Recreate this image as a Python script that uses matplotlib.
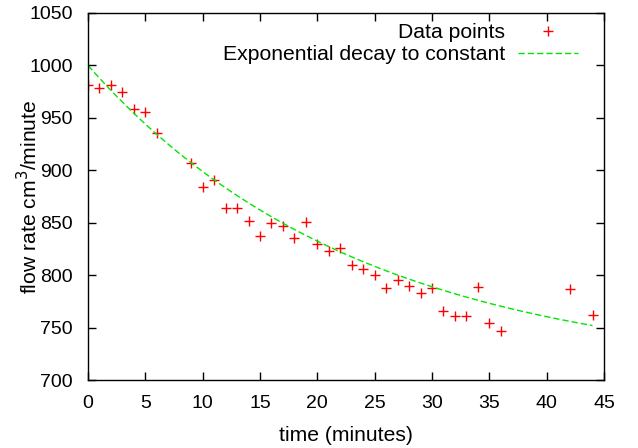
import numpy as np
import matplotlib
matplotlib.use("Agg")
import matplotlib.pyplot as plt

plt.rcParams['font.family'] = ['Liberation Sans', 'DejaVu Sans']

t = [0, 1, 2, 3, 4, 5, 6, 9, 10, 11, 12, 13, 14, 15, 16, 17, 18, 19, 20,
     21, 22, 23, 24, 25, 26, 27, 28, 29, 30, 31, 32, 33, 34, 35, 36, 42, 44]
rate = [981, 978, 981, 975, 958, 956, 936, 907, 884, 891, 864, 864, 852, 837,
        850, 847, 835, 851, 830, 823, 826, 810, 806, 800, 788, 795, 790, 783,
        788, 766, 761, 761, 789, 754, 747, 787, 762]

# fitted model parameters: f(t) = c + a*exp(-t/tau)
fit_a, fit_tau, fit_c = 294.0, 23.7, 706.0

xticks = [0, 5, 10, 15, 20, 25, 30, 35, 40, 45]
yticks = [700, 750, 800, 850, 900, 950, 1000, 1050]

TXT = 15.2
TICK = 14

fig = plt.figure(figsize=(6.38, 4.48), dpi=100)
ax = fig.add_axes([88/638, 1-380/448, (604-88)/638, (380-13)/448])

tf = np.linspace(min(t), max(t), 200)
ax.plot(t, rate, linestyle='none', marker='+', color='#ff0000', markersize=6.5,
        markeredgewidth=1.0, label='Data points')
ax.plot(tf, fit_c + fit_a*np.exp(-tf/fit_tau), color='#00e600', linewidth=1.0,
        dashes=(4.5, 2.2), label='Exponential decay to constant')

ax.set_xlim(0, 45)
ax.set_ylim(700, 1050)
ax.set_xticks(xticks)
ax.set_yticks(yticks)
ax.tick_params(direction='in', length=6, width=1, top=True, right=True,
               labelsize=TICK, pad=10.8)
for s in ax.spines.values():
    s.set_linewidth(1.0)
ax.set_xlabel('time (minutes)', fontsize=TXT, va='center')
ax.xaxis.set_label_coords(0.5, (380-435)/367)
ax.set_ylabel('flow rate cm$^3$/minute', fontsize=TXT, va='center')
ax.yaxis.set_label_coords((29-88)/516, 0.5)

leg = ax.legend(loc='upper right', bbox_to_anchor=((578-88)/516, 1-(23-13)/367),
                markerfirst=False, frameon=False,
                fontsize=TXT, handlelength=2.84, handletextpad=0.62,
                labelspacing=0.16, borderaxespad=0, borderpad=0)

fig.savefig('out.png', dpi=100)
